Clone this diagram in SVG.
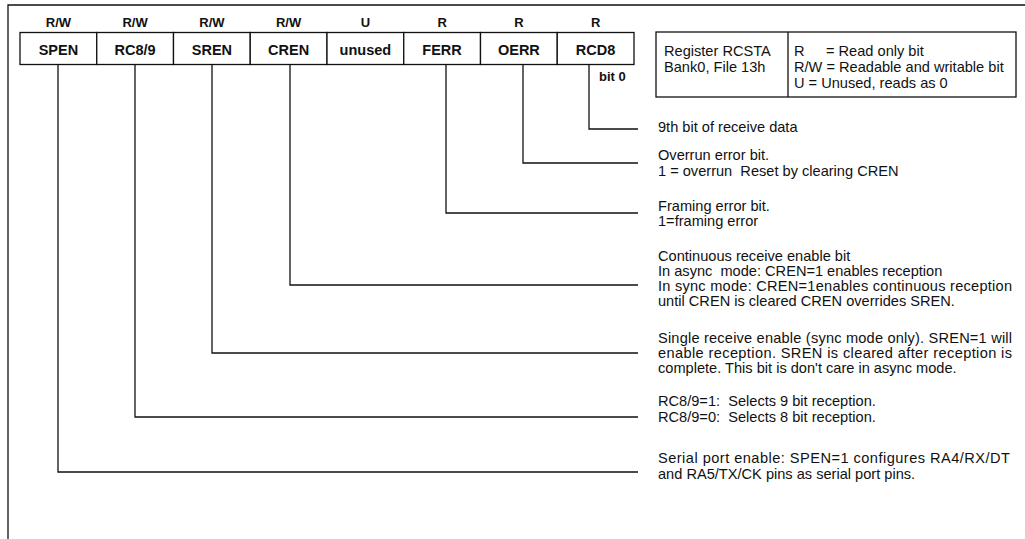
<svg xmlns="http://www.w3.org/2000/svg" width="1025" height="539" viewBox="0 0 1025 539">
<style>
.ln{stroke:#111;stroke-width:1.3;fill:none}
.box{stroke:#111;stroke-width:1.3;fill:#fff}
.hd{font-family:"Liberation Sans",Arial,sans-serif;font-size:13px;font-weight:bold;fill:#111;text-anchor:middle}
.cl{font-family:"Liberation Sans",Arial,sans-serif;font-size:14.5px;font-weight:bold;fill:#111;text-anchor:middle}
.tx{font-family:"Liberation Sans",Arial,sans-serif;font-size:14.6px;fill:#111}
</style>
<rect width="1025" height="539" fill="#fff"/>
<g id="frame">
<path class="ln" d="M8,539 V5 H1025"/>
</g>
<g id="register">
<g id="headers">
<text class="hd" x="58.4" y="26.5">R/W</text>
<text class="hd" x="135.1" y="26.5">R/W</text>
<text class="hd" x="211.9" y="26.5">R/W</text>
<text class="hd" x="288.6" y="26.5">R/W</text>
<text class="hd" x="365.4" y="26.5">U</text>
<text class="hd" x="442.1" y="26.5">R</text>
<text class="hd" x="518.9" y="26.5">R</text>
<text class="hd" x="595.6" y="26.5">R</text>
</g>
<g id="bit7"><rect class="box" x="20" y="32.5" width="76.75" height="32"/><text class="cl" x="58.4" y="54.5">SPEN</text></g>
<g id="bit6"><rect class="box" x="96.75" y="32.5" width="76.75" height="32"/><text class="cl" x="135.1" y="54.5">RC8/9</text></g>
<g id="bit5"><rect class="box" x="173.5" y="32.5" width="76.75" height="32"/><text class="cl" x="211.9" y="54.5">SREN</text></g>
<g id="bit4"><rect class="box" x="250.25" y="32.5" width="76.75" height="32"/><text class="cl" x="288.6" y="54.5">CREN</text></g>
<g id="bit3"><rect class="box" x="327" y="32.5" width="76.75" height="32"/><text class="cl" x="365.4" y="54.5">unused</text></g>
<g id="bit2"><rect class="box" x="403.75" y="32.5" width="76.75" height="32"/><text class="cl" x="442.1" y="54.5">FERR</text></g>
<g id="bit1"><rect class="box" x="480.5" y="32.5" width="76.75" height="32"/><text class="cl" x="518.9" y="54.5">OERR</text></g>
<g id="bit0"><rect class="box" x="557.25" y="32.5" width="76.75" height="32"/><text class="cl" x="595.6" y="54.5">RCD8</text></g>
<text class="tx" x="599" y="81" style="font-size:13px;font-weight:bold">bit 0</text>
</g>
<g id="legend">
<rect class="box" x="656" y="32" width="360" height="65"/>
<line class="ln" x1="788" y1="32" x2="788" y2="97"/>
<text class="tx" x="664" y="56">Register RCSTA</text>
<text class="tx" x="664" y="72">Bank0, File 13h</text>
<text class="tx" x="794" y="56">R<tspan x="826">= Read only bit</tspan></text>
<text class="tx" x="794" y="72">R/W = Readable and writable bit</text>
<text class="tx" x="794" y="88">U = Unused, reads as 0</text>
</g>
<g id="connectors">
<path class="ln" d="M589,64.5 V129 H638"/>
<path class="ln" d="M523,64.5 V163 H638"/>
<path class="ln" d="M446,64.5 V213 H638"/>
<path class="ln" d="M290,64.5 V285 H638"/>
<path class="ln" d="M212,64.5 V353 H638"/>
<path class="ln" d="M135,64.5 V417 H638"/>
<path class="ln" d="M58,64.5 V472 H638"/>
</g>
<g id="desc-rcd8"><text class="tx" x="658" y="132">9th bit of receive data</text></g>
<g id="desc-oerr">
<text class="tx" x="658" y="160">Overrun error bit.</text>
<text class="tx" x="658" y="176" xml:space="preserve">1 = overrun  Reset by clearing CREN</text>
</g>
<g id="desc-ferr">
<text class="tx" x="658" y="211">Framing error bit.</text>
<text class="tx" x="658" y="226">1=framing error</text>
</g>
<g id="desc-cren">
<text class="tx" x="658" y="261">Continuous receive enable bit</text>
<text class="tx" x="658" y="276" xml:space="preserve">In async  mode: CREN=1 enables reception</text>
<text class="tx" x="658" y="291" textLength="354" lengthAdjust="spacing">In sync mode: CREN=1enables continuous reception</text>
<text class="tx" x="658" y="306">until CREN is cleared CREN overrides SREN.</text>
</g>
<g id="desc-sren">
<text class="tx" x="658" y="343" textLength="354" lengthAdjust="spacing">Single receive enable (sync mode only). SREN=1 will</text>
<text class="tx" x="658" y="358" textLength="354" lengthAdjust="spacing">enable reception. SREN is cleared after reception is</text>
<text class="tx" x="658" y="373">complete. This bit is don't care in async mode.</text>
</g>
<g id="desc-rc89">
<text class="tx" x="658" y="406" xml:space="preserve">RC8/9=1:  Selects 9 bit reception.</text>
<text class="tx" x="658" y="422" xml:space="preserve">RC8/9=0:  Selects 8 bit reception.</text>
</g>
<g id="desc-spen">
<text class="tx" x="658" y="463" textLength="352" lengthAdjust="spacing">Serial port enable: SPEN=1 configures RA4/RX/DT</text>
<text class="tx" x="658" y="479">and RA5/TX/CK pins as serial port pins.</text>
</g>
</svg>
